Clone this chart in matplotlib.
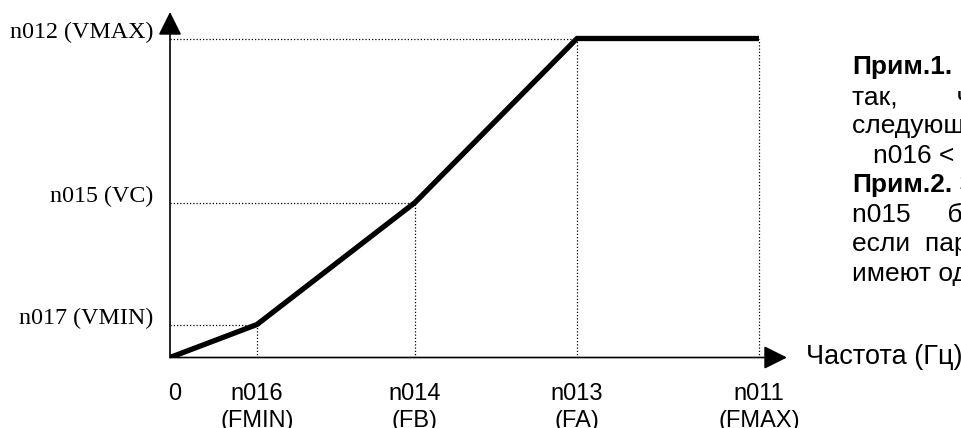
import matplotlib
matplotlib.use("Agg")
import matplotlib.pyplot as plt

# Data (frequency / voltage break points, arbitrary units)
freq = [0, 8.7, 24.5, 40.7, 58.9]          # 0, n016, n014, n013, n011
volt = [0, 3.3, 15.5, 31.9, 31.9]          # 0, n017, n015, n012, n012
freq_labels = ["0", "n016\n(FMIN)", "n014\n(FB)", "n013\n(FA)", "n011\n(FMAX)"]
volt_labels = ["n017 (VMIN)", "n015 (VC)", "n012 (VMAX)"]
x_title = "Частота (Гц)"

W, H = 962, 428
fig = plt.figure(figsize=(W / 100, H / 100), dpi=100)
ax = fig.add_axes([170 / W, (H - 357.5) / H, 617 / W, 345.5 / H])
ax.set_xlim(0, 61.7)
ax.set_ylim(0, 34.55)
ax.axis("off")

# axes with arrows
arrow_kw = dict(arrowstyle="-|>,head_length=0.72,head_width=0.36", lw=1.2,
                color="black", shrinkA=0, shrinkB=0, mutation_scale=20)
ax.annotate("", xy=(0, 1), xytext=(0, 0), xycoords="axes fraction",
            arrowprops=arrow_kw)
ax.annotate("", xy=(1, 0), xytext=(0, 0), xycoords="axes fraction",
            arrowprops=arrow_kw)

# dotted guide lines
dot = dict(color="black", lw=0.9, linestyle=(0, (1, 1.6)))
for f, v in [(freq[1], volt[1]), (freq[2], volt[2]), (freq[3], volt[3])]:
    ax.plot([0, f], [v, v], **dot)
    ax.plot([f, f], [0, v], **dot)
ax.plot([freq[4], freq[4]], [0, volt[4]], **dot)

# V/f curve
ax.plot(freq, volt, color="black", lw=3.8, solid_joinstyle="miter",
        solid_capstyle="butt")

# y labels (serif)
for v, lab in zip(volt[1:4], volt_labels):
    ax.annotate(lab, xy=(0, v), xytext=(-17, 6), textcoords="offset pixels",
                ha="right", va="center", fontsize=17.3,
                family="Liberation Serif")

# x labels (sans)
for f, lab in zip(freq, freq_labels):
    ax.annotate(lab, xy=(f, 0), xytext=(5 if f == 0 else 0, -25),
                textcoords="offset pixels", ha="center", va="top",
                fontsize=17, family="Liberation Sans", linespacing=1.32)

ax.annotate(x_title, xy=(1, 0), xycoords="axes fraction", xytext=(19, 0),
            textcoords="offset pixels", ha="left", va="center",
            fontsize=19.5, family="Liberation Sans")

# notes on the right (cut by the right edge, as in the reference)
fs = 19
def fy(y):
    return 1 - y / H

lines = [
    (852, 67, "Прим.1.", " Параметры должны быть"),
    (852, 97, None, "так,        чтобы выполнялось"),
    (852, 126.5, None, "следующее условие:"),
    (873, 156, None, "n016 < n014 < n013 ≤ n011"),
    (852, 185.5, "Прим.2.", " Значение параметра"),
    (852, 215, None, "n015     будет игнорироваться,"),
    (852, 244.5, None, "если  параметры  n016  и  n014"),
    (852, 274, None, "имеют одинаковые значения."),
]
for x, y, bold, rest in lines:
    if bold:
        t = fig.text(x / W, fy(y), bold, fontsize=fs, fontweight="bold",
                     family="Liberation Sans", va="center", ha="left")
        ax.annotate(rest, xy=(1, 0.5), xycoords=t, va="center", ha="left",
                    fontsize=fs, family="Liberation Sans",
                    annotation_clip=False)
    else:
        fig.text(x / W, fy(y), rest, fontsize=fs, family="Liberation Sans",
                 va="center", ha="left")

fig.savefig("out.png", dpi=100)
